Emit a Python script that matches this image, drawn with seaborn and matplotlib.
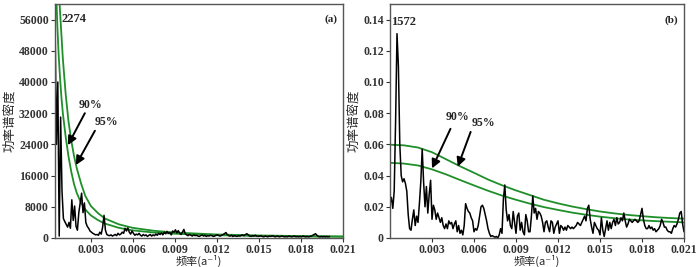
import numpy as np
import pandas as pd
import matplotlib
matplotlib.use("Agg")
import matplotlib.pyplot as plt
import seaborn as sns

# ---- panel (a) data ----
freq_a_start = 0.00044
power_a = [57000, 24000, 40000, 500, 31000, 12000, 5000, 4200, 3500, 2800,
           4000, 2500, 9800, 4500, 8200, 3000, 2000, 6500, 9000, 11500,
           6500, 9000, 4000, 3000, 2500, 1800, 1500, 1200, 1000, 800,
           900, 700, 1500, 1000, 2800, 5800, 2000, 900, 700, 600,
           800, 500, 700, 900, 600, 1200, 800, 1000, 1500, 1200,
           2500, 1800, 2600, 1500, 1000, 1800, 1200, 700, 1000, 800,
           1200, 700, 500, 900, 600, 800, 400, 700, 900, 500,
           800, 600, 1000, 700, 1200, 900, 1300, 800, 1500, 1100,
           1700, 1200, 1400, 800, 1800, 1500, 2100, 1300, 1900, 1200,
           900, 1500, 2200, 1100, 800, 600, 900, 700, 500, 800,
           600, 700, 500, 400, 600, 800, 500, 700, 400, 600,
           500, 700, 600, 400, 500, 700, 800, 600, 500, 700,
           900, 1100, 1400, 900, 600, 500, 700, 400, 600, 500,
           400, 600, 500, 700, 800, 600, 900, 1100, 800, 500,
           400, 600, 500, 700, 500, 400, 500, 600, 400, 300,
           500, 400, 300, 500, 400, 600, 500, 300, 400, 500,
           300, 400, 500, 400, 300, 400, 300, 500, 400, 300,
           400, 500, 300, 400, 300, 400, 300, 500, 400, 300,
           400, 300, 400, 500, 700, 900, 1100, 700, 400, 300,
           400, 300, 400, 300, 400, 300, 400]
freq_a = freq_a_start + 0.0001 * np.arange(len(power_a))

# red-noise confidence curves
conf_a90_f = [0.00044, 0.0005, 0.0006, 0.0007, 0.0008, 0.0009, 0.0010, 0.0012,
              0.0014, 0.0016, 0.0018, 0.0020, 0.0023, 0.0026, 0.0030, 0.0035,
              0.0040, 0.0050, 0.0060, 0.0075, 0.0090, 0.0120, 0.0150, 0.0180, 0.0210]
conf_a90_p = [75000, 66000, 55000, 47000, 41000, 36000, 32000, 26000,
              21000, 17000, 13800, 11500, 9000, 7300, 5800, 4600,
              3700, 2600, 1950, 1400, 1100, 720, 520, 400, 320]
conf_a95_f = [0.00044, 0.0006, 0.0008, 0.0010, 0.0012, 0.0014, 0.0016, 0.0018,
              0.0020, 0.0023, 0.0026, 0.0030, 0.0035, 0.0040, 0.0050, 0.0060,
              0.0075, 0.0090, 0.0120, 0.0150, 0.0180, 0.0210]
conf_a95_p = [100000, 72000, 58000, 46000, 37000, 30000, 25000, 21000,
              17800, 14000, 10800, 8200, 6400, 5000, 3500, 2600,
              1850, 1400, 900, 650, 500, 400]

# ---- panel (b) data ----
power_b = [0.022, 0.026, 0.019, 0.030, 0.075, 0.131, 0.110, 0.060, 0.040, 0.036,
           0.038, 0.035, 0.030, 0.015, 0.006, 0.005, 0.012, 0.018, 0.008, 0.014,
           0.010, 0.022, 0.036, 0.057, 0.036, 0.020, 0.033, 0.016, 0.028, 0.037,
           0.012, 0.021, 0.018, 0.012, 0.016, 0.013, 0.010, 0.013, 0.008, 0.006,
           0.009, 0.006, 0.011, 0.009, 0.010, 0.006, 0.009, 0.011, 0.004, 0.008,
           0.003, 0.005, 0.002, 0.008, 0.022, 0.019, 0.017, 0.016, 0.013, 0.011,
           0.004, 0.006, 0.005, 0.008, 0.014, 0.020, 0.021, 0.019, 0.015, 0.011,
           0.006, 0.003, 0.001, 0.0015, 0.001, 0.0005, 0.001, 0.0, 0.002, 0.006,
           0.003, 0.025, 0.034, 0.018, 0.011, 0.015, 0.008, 0.006, 0.017, 0.010,
           0.003, 0.014, 0.016, 0.005, 0.010, 0.004, 0.002, 0.015, 0.011, 0.004,
           0.004, 0.014, 0.027, 0.016, 0.019, 0.012, 0.017, 0.016, 0.014, 0.010,
           0.004, 0.010, 0.011, 0.007, 0.004, 0.011, 0.010, 0.003, 0.007, 0.009,
           0.011, 0.003, 0.008, 0.007, 0.005, 0.007, 0.005, 0.008, 0.007, 0.006,
           0.007, 0.006, 0.007, 0.008, 0.010, 0.009, 0.008, 0.010, 0.012, 0.014,
           0.011, 0.019, 0.021, 0.012, 0.007, 0.003, 0.010, 0.008, 0.006, 0.005,
           0.002, 0.013, 0.005, 0.001, 0.006, 0.011, 0.005, 0.010, 0.006, 0.010,
           0.012, 0.008, 0.013, 0.009, 0.010, 0.013, 0.011, 0.016, 0.011, 0.007,
           0.009, 0.012, 0.011, 0.010, 0.011, 0.012, 0.011, 0.010, 0.011, 0.015,
           0.019, 0.012, 0.008, 0.006, 0.006, 0.008, 0.006, 0.007, 0.005, 0.006,
           0.004, 0.005, 0.006, 0.008, 0.012, 0.010, 0.007, 0.007, 0.005, 0.004,
           0.004, 0.003, 0.006, 0.008, 0.007, 0.009, 0.012, 0.016, 0.017, 0.009,
           0.004]
freq_b = 0.0001 * np.arange(len(power_b))

conf_b_f = [0.000, 0.001, 0.002, 0.003, 0.004, 0.005, 0.006, 0.007, 0.008, 0.009, 0.010,
            0.011, 0.012, 0.013, 0.014, 0.015, 0.016, 0.017, 0.018, 0.019, 0.020, 0.021]
conf_b95 = [0.0598, 0.0594, 0.0580, 0.0550, 0.0505, 0.0460, 0.0418, 0.0375, 0.0338, 0.0305, 0.0275,
            0.0245, 0.0222, 0.0202, 0.0185, 0.0170, 0.0158, 0.0148, 0.0140, 0.0133, 0.0128, 0.0124]
conf_b90 = [0.0482, 0.0477, 0.0465, 0.0440, 0.0408, 0.0372, 0.0337, 0.0303, 0.0272, 0.0245, 0.0220,
            0.0198, 0.0180, 0.0163, 0.0149, 0.0137, 0.0127, 0.0119, 0.0113, 0.0108, 0.0104, 0.0100]

xticks = [0.003, 0.006, 0.009, 0.012, 0.015, 0.018, 0.021]
yticks_a = [0, 8000, 16000, 24000, 32000, 40000, 48000, 56000]
yticks_b = [0, 0.02, 0.04, 0.06, 0.08, 0.10, 0.12, 0.14]

sns.set_style("ticks")
plt.rcParams['font.family'] = ['Liberation Serif', 'Noto Sans CJK SC']
plt.rcParams['axes.edgecolor'] = '#555555'
plt.rcParams['xtick.color'] = '#333333'
plt.rcParams['ytick.color'] = '#333333'

fig = plt.figure(figsize=(7.0, 2.67), dpi=100)
ax_a = fig.add_axes([55/700, 29/267, 288/700, 234/267])
ax_b = fig.add_axes([390/700, 29/267, 294/700, 234/267])

green = '#1f8f2a'
tick_font = dict(fontsize=8.5, fontweight='bold')
cjk = ['Noto Sans CJK SC', 'DejaVu Sans']
arrow_kw = dict(arrowstyle='-|>', color='black', lw=1.4, mutation_scale=13,
                shrinkA=0, shrinkB=0)


def pointer(ax, label, text_xy, tail, head):
    ax.text(*text_xy, label, fontsize=8.5, fontweight='bold', ha='center', va='center')
    ax.annotate('', xy=head, xytext=tail, arrowprops=arrow_kw)


# panel (a)
sns.lineplot(x=conf_a90_f, y=conf_a90_p, ax=ax_a, color=green, lw=1.3)
sns.lineplot(x=conf_a95_f, y=conf_a95_p, ax=ax_a, color=green, lw=1.3)
sns.lineplot(x=freq_a, y=power_a, ax=ax_a, color='black', lw=1.1, sort=False)
ax_a.set_xlim(0.00044, 0.021)
ax_a.set_ylim(0, 60000)
ax_a.set_yticks(yticks_a)
ax_a.set_yticklabels([str(v) for v in yticks_a], **tick_font)
ax_a.text(0.00092, 56200, '2274', fontsize=9, va='center', ha='left', fontweight='bold')
ax_a.text(0.0206, 56200, '(a)', fontsize=8, va='center', ha='right', fontweight='bold')
pointer(ax_a, '90%', (0.0030, 34000), (0.00257, 32000), (0.00136, 23800))
pointer(ax_a, '95%', (0.00414, 29800), (0.00329, 27500), (0.00193, 18700))

# panel (b)
sns.lineplot(x=conf_b_f, y=conf_b95, ax=ax_b, color=green, lw=1.3)
sns.lineplot(x=conf_b_f, y=conf_b90, ax=ax_b, color=green, lw=1.3)
sns.lineplot(x=freq_b, y=power_b, ax=ax_b, color='black', lw=1.1, sort=False)
ax_b.set_xlim(0, 0.021)
ax_b.set_ylim(0, 0.15)
ax_b.set_yticks(yticks_b)
ax_b.set_yticklabels(['0' if v == 0 else f'{v:.2f}' for v in yticks_b], **tick_font)
ax_b.text(0.00094, 0.1385, '1572', fontsize=9, va='center', ha='center', fontweight='bold')
ax_b.text(0.0206, 0.1395, '(b)', fontsize=8, va='center', ha='right', fontweight='bold')
pointer(ax_b, '90%', (0.0048, 0.0775), (0.00432, 0.0700), (0.0030, 0.0446))
pointer(ax_b, '95%', (0.00665, 0.0740), (0.00576, 0.0680), (0.00484, 0.0457))

for ax in (ax_a, ax_b):
    ax.set_xticks(xticks)
    ax.set_xticklabels([f'{v:.3f}' for v in xticks], **tick_font)
    ax.tick_params(direction='out', length=3, width=0.8, pad=1.5)
    for s in ax.spines.values():
        s.set_visible(True)
        s.set_linewidth(1.0)
    ax.set_xlabel('频率(a⁻¹)', fontsize=8, family=cjk)
    ax.xaxis.set_label_coords(0.5, -0.073)
    ax.set_ylabel('功率谱密度', fontsize=9, family=cjk, labelpad=2)

fig.savefig('out.png', dpi=100)
